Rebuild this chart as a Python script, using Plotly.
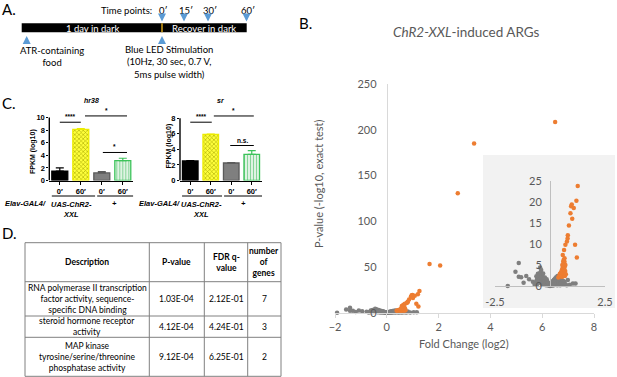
import plotly.graph_objects as go

W, H = 617, 377
def fx(p): return p / W
def fy(p): return 1 - p / H

# ---------------- Panel A (schematic) ----------------
timepoint_labels = ["0′", "15′", "30′", "60′"]
timepoint_px = [162, 184, 208, 246.5]

# ---------------- Panel C (bar charts) ----------------
cond_labels = ["0′", "60′", "0′", "60′"]
hr38_mean = [1.5, 8.1, 1.2, 3.15]
hr38_err = [0.5, 0.12, 0.2, 0.38]
sr_mean = [2.52, 5.92, 2.25, 3.35]
sr_err = [0.05, 0.06, 0.06, 0.48]
hr38_sig_x0 = [0.0, 1.2, 2.05]
hr38_sig_x1 = [1.0, 3.2, 3.2]
hr38_sig_y = [9.25, 10.25, 4.45]
hr38_sig_txt = ["****", "*", "*"]
sr_sig_x0 = [0.0, 1.15, 1.95]
sr_sig_x1 = [1.05, 3.1, 3.1]
sr_sig_y = [7.5, 8.3, 4.5]
sr_sig_txt = ["****", "*", "n.s."]
genotype_labels = ["UAS-ChR2-<br>XXL", "+"]
driver_label = "Elav-GAL4/"

# ---------------- Panel B (volcano) ----------------
sig_fc = [6.50, 3.37, 2.74, 1.65, 2.06, 1.26, 1.20, 0.99, 0.96, 1.08, 0.93, 1.01,
          0.86, 0.81, 0.80, 0.77, 0.70, 1.14, 0.64, 0.58, 1.22,
          0.38, 0.42, 0.45, 0.48, 0.50, 0.52, 0.54, 0.55, 0.57, 0.58, 0.60, 0.61,
          0.62, 0.63, 0.64, 0.65, 0.66, 0.67, 0.68, 0.69, 0.62, 0.66, 0.70, 0.72,
          0.60, 0.56]
sig_p = [208.5, 185.0, 130.7, 53.3, 51.5, 23.8, 20.3, 19.4, 19.0, 18.6, 17.3, 16.0,
         14.4, 12.1, 11.3, 10.6, 9.8, 9.8, 8.6, 7.4, 6.8,
         2.0, 2.4, 2.9, 2.3, 3.3, 2.6, 3.8, 2.2, 4.3, 3.0, 4.8, 3.5,
         2.5, 5.3, 4.1, 3.0, 5.8, 4.6, 2.4, 3.6, 6.2, 6.6, 5.0, 2.8,
         5.8, 5.0]
ns_fc = [-1.92, -1.57, -1.42, -1.42, -1.31, -1.08, -0.95, -0.78, -1.20, -0.62,
         -0.55, -0.48, -0.40, -0.45,
         -0.70, -0.66, -0.60, -0.58, -0.55, -0.52, -0.50, -0.48, -0.46, -0.43,
         -0.42, -0.40, -0.38, -0.36, -0.35, -0.33, -0.31, -0.30, -0.28, -0.26,
         -0.25, -0.23, -0.21, -0.20, -0.18, -0.17, -0.15, -0.13, -0.12, -0.10,
         -0.09, -0.07, -0.05, -0.04, -0.02,
         0.00, 0.02, 0.04, 0.05, 0.07, 0.09, 0.10, 0.12, 0.13, 0.15, 0.17, 0.18,
         0.20, 0.22, 0.23, 0.25, 0.27, 0.28, 0.30, 0.32, 0.33, 0.34, 0.36, 0.38,
         0.40, 0.42, 0.44, 0.46, 0.48, 0.50, 0.52, 0.55, 0.58, 0.60, 0.63, 0.66,
         0.70, 0.76, 0.81, 0.90, 1.04, 1.16]
ns_p = [0.0, 3.4, 5.5, 2.2, 2.1, 2.4, 1.6, 1.0, 0.8, 2.3,
        2.9, 3.0, 3.8, 4.4,
        0.3, 0.9, 1.5, 0.5, 1.2, 2.0, 0.8, 1.6, 2.5, 3.3,
        1.0, 2.0, 2.7, 0.4, 1.4, 2.2, 3.0, 0.9, 1.8, 0.3,
        1.2, 2.0, 0.7, 1.5, 0.2, 1.0, 1.6, 0.5, 1.1, 0.2,
        0.8, 0.4, 0.1, 0.6, 0.2,
        0.0, 0.3, 0.1, 0.6, 0.2, 0.9, 0.4, 0.1, 1.2, 0.6, 0.2, 1.5,
        0.9, 0.3, 1.8, 1.2, 0.5, 2.1, 1.5, 0.8, 0.2, 2.4, 1.8, 1.1,
        0.4, 1.5, 0.8, 0.2, 1.2, 0.6, 1.6, 0.9, 0.3, 1.2, 0.6, 1.0,
        0.4, 0.2, 1.4, 0.3, 0.6, 0.6]
main_x_ticks = [-2, 0, 2, 4, 6, 8]
main_y_ticks = [0, 50, 100, 150, 200, 250]
inset_x_ticks = [-2.5, 2.5]
inset_y_ticks = [0, 5, 10, 15, 20, 25]

# ---------------- Panel D (table) ----------------
table_header = ["Description", "P-value", "FDR q-<br>value", "number<br>of<br>genes"]
go_desc = ["RNA polymerase II transcription<br>factor activity, sequence-<br>specific DNA binding",
           "steroid hormone receptor<br>activity",
           "MAP kinase<br>tyrosine/serine/threonine<br>phosphatase activity"]
go_pval = ["1.03E-04", "4.12E-04", "9.12E-04"]
go_fdr = ["2.12E-01", "4.24E-01", "6.25E-01"]
go_ngenes = ["7", "3", "2"]

# ====================================================
XL = "Lato"
PR = "Liberation Sans"
XLC = "#595959"
BLUE = "#5b9bd5"

fig = go.Figure()
ann = []
shapes = []

def text(t, x, y, size, color="black", family=XL, xanchor="center", yanchor="middle",
         angle=0, weight="normal", style="normal", xref="paper", yref="paper"):
    ann.append(dict(text=t, x=x, y=y, xref=xref, yref=yref, showarrow=False,
                    xanchor=xanchor, yanchor=yanchor, textangle=angle,
                    font=dict(family=family, size=size, color=color, weight=weight, style=style)))

# ---------- panel labels ----------
text("A.", fx(0), fy(9), 15, xanchor="left")
text("B.", fx(297), fy(23), 15, xanchor="left")
text("C.", fx(0), fy(103), 15, xanchor="left")
text("D.", fx(0), fy(233), 15, xanchor="left")

# ---------- Panel A ----------
shapes.append(dict(type="rect", xref="paper", yref="paper", x0=fx(21.7), x1=fx(246.7),
                   y0=fy(32.3), y1=fy(23.3), fillcolor="black", line=dict(width=0)))
shapes.append(dict(type="line", xref="paper", yref="paper", x0=fx(162), x1=fx(162),
                   y0=fy(32.3), y1=fy(23.3), line=dict(color="#d4a017", width=1.5)))
text("1 day in dark", fx(92), fy(28), 9.5, color="white")
text("Recover in dark", fx(204), fy(28), 9.5, color="white")
text("Time points:", fx(126), fy(10), 9.5)
for lab, xp in zip(timepoint_labels, timepoint_px):
    text(lab, fx(xp + 1.5), fy(10), 9.5)
    ann.append(dict(text="", x=fx(xp), y=fy(21.5), xref="paper", yref="paper",
                    showarrow=True, ax=0, ay=-6, arrowhead=2, arrowsize=1,
                    arrowwidth=1.6, arrowcolor=BLUE))
for xp in [26.7, 162]:
    ann.append(dict(text="", x=fx(xp), y=fy(36), xref="paper", yref="paper",
                    showarrow=True, ax=0, ay=7, arrowhead=2, arrowsize=1,
                    arrowwidth=1.6, arrowcolor=BLUE))
text("ATR-containing<br>food", fx(52), fy(57), 9.5)
text("Blue LED Stimulation<br>(10Hz, 30 sec, 0.7 V,<br>5ms pulse width)", fx(169), fy(62), 9.5)

# ---------- Panel C ----------
bar_fill = ["#000000", "#ffff3c", "#7f7f7f", "#dff3e3"]
bar_line = ["#000000", "#ecec00", "#5a5a5a", "#3cc35a"]
bar_pattern = ["", "x", "", "|"]
bar_pattern_fg = ["#000000", "#a8a800", "#7f7f7f", "#86d498"]

def add_bars(xa, ya, means, errs):
    for i, (m, e) in enumerate(zip(means, errs)):
        fig.add_trace(go.Bar(
            x=[i], y=[m], width=0.76, xaxis=xa, yaxis=ya,
            marker=dict(color=bar_fill[i], line=dict(color=bar_line[i], width=1.3),
                        pattern=dict(shape=bar_pattern[i], fgcolor=bar_pattern_fg[i],
                                     bgcolor=bar_fill[i], size=3, solidity=0.35)),
            error_y=dict(type="data", array=[e], arrayminus=[0], symmetric=False,
                         color=bar_line[i], thickness=1.2, width=4),
            showlegend=False, hoverinfo="skip"))

add_bars("x", "y", hr38_mean, hr38_err)
add_bars("x2", "y2", sr_mean, sr_err)

def bar_axes(xdom, yunit, ymax_tick, yrange_top):
    xa = dict(domain=xdom, range=[-0.5, 3.5], tickvals=[0, 1, 2, 3], ticktext=cond_labels,
              showline=True, linecolor="black", linewidth=1.4, ticks="outside", ticklen=3,
              tickwidth=1.2, tickcolor="black", showgrid=False, zeroline=False,
              automargin=False,
              tickfont=dict(family=PR, size=7.5, weight="bold", color="black"), fixedrange=True)
    ya = dict(domain=[fy(180.5), fy(180.5 - yrange_top * yunit)], range=[0, yrange_top],
              tickvals=list(range(0, ymax_tick + 1, 2)), showline=False, ticks="outside",
              ticklen=2, tickwidth=1.2, tickcolor="black", showgrid=False, zeroline=False,
              automargin=False,
              tickfont=dict(family=PR, size=7.5, weight="bold", color="black"), fixedrange=True)
    return xa, ya

xa1, ya1 = bar_axes([fx(49.3), fx(133.3)], 6.3, 10, 12)
xa2, ya2 = bar_axes([fx(180), fx(262)], 7.775, 8, 9.6)
xa1["anchor"] = "y"; ya1["anchor"] = "x"
xa2["anchor"] = "y2"; ya2["anchor"] = "x2"

# y-axis lines (only up to the last tick)
shapes.append(dict(type="line", xref="x domain", yref="y", x0=0, x1=0, y0=0, y1=10,
                   line=dict(color="black", width=1.4)))
shapes.append(dict(type="line", xref="x2 domain", yref="y2", x0=0, x1=0, y0=0, y1=8,
                   line=dict(color="black", width=1.4)))

def sig(xr, yr, x0s, x1s, ys, txts):
    for a, b, yv, t in zip(x0s, x1s, ys, txts):
        shapes.append(dict(type="line", xref=xr, yref=yr, x0=a, x1=b, y0=yv, y1=yv,
                           line=dict(color="black", width=1)))
        text(t, (a + b) / 2, yv, 6.5, family=PR, weight="bold", yanchor="bottom",
             xref=xr, yref=yr)

sig("x", "y", hr38_sig_x0, hr38_sig_x1, hr38_sig_y, hr38_sig_txt)
sig("x2", "y2", sr_sig_x0, sr_sig_x1, sr_sig_y, sr_sig_txt)

text("hr38", 1.5, fy(100), 7, family=PR, weight="bold", style="italic", xref="x")
text("sr", 1.5, fy(100), 7, family=PR, weight="bold", style="italic", xref="x2")
text("FPKM (log10)", fx(33), fy(152), 7, family=PR, weight="bold", angle=-90)
text("FPKM (log10)", fx(168.5), fy(146), 7, family=PR, weight="bold", angle=-90)

for xr, ax_left_px, spans in [("x", 48, [(-0.38, 1.68), (1.78, 3.5)]),
                              ("x2", 182, [(-0.4, 1.55), (1.65, 3.5)])]:
    for (a, b) in spans:
        shapes.append(dict(type="line", xref=xr, yref="paper", x0=a, x1=b,
                           y0=fy(196), y1=fy(196), line=dict(color="black", width=1)))
    text(driver_label, fx(ax_left_px), fy(203), 7.5, family=PR, weight="bold",
         style="italic", xanchor="right")
    text(genotype_labels[0], 0.55, fy(209), 7.5, family=PR, weight="bold",
         style="italic", xref=xr)
    text(genotype_labels[1], 2.6, fy(203), 7.5, family=PR, weight="bold",
         style="italic", xref=xr)

# ---------- Panel B ----------
mx_dom = [fx(335), fx(594)]
mx_rng = [-2, 8]
my_dom = [fy(312.7), fy(84)]
main_pos = mx_dom[0] + (0 - mx_rng[0]) / (mx_rng[1] - mx_rng[0]) * (mx_dom[1] - mx_dom[0])

ix_dom = [fx(495), fx(605)]
ix_rng = [-2.5, 2.5]
iy_dom = [fy(286), fy(181)]
inset_pos = ix_dom[0] + (0 - ix_rng[0]) / (ix_rng[1] - ix_rng[0]) * (ix_dom[1] - ix_dom[0])

GRAY = "#7f7f7f"
ORANGE = "#ed7d31"
fig.add_trace(go.Scatter(x=ns_fc, y=ns_p, mode="markers", xaxis="x3", yaxis="y3",
                         marker=dict(color=GRAY, size=4.5), cliponaxis=False,
                         showlegend=False, hoverinfo="skip"))
fig.add_trace(go.Scatter(x=sig_fc, y=sig_p, mode="markers", xaxis="x3", yaxis="y3",
                         marker=dict(color=ORANGE, size=4.5), cliponaxis=False,
                         showlegend=False, hoverinfo="skip"))

def in_inset(xs, ys):
    pts = [(a, b) for a, b in zip(xs, ys)
           if ix_rng[0] <= a <= ix_rng[1] and b <= inset_y_ticks[-1]]
    return [p[0] for p in pts], [p[1] for p in pts]

gx, gy = in_inset(ns_fc, ns_p)
ox, oy = in_inset(sig_fc, sig_p)
fig.add_trace(go.Scatter(x=gx, y=gy, mode="markers", xaxis="x4", yaxis="y4",
                         marker=dict(color=GRAY, size=4.5), cliponaxis=False,
                         showlegend=False, hoverinfo="skip"))
fig.add_trace(go.Scatter(x=ox, y=oy, mode="markers", xaxis="x4", yaxis="y4",
                         marker=dict(color=ORANGE, size=4.5), cliponaxis=False,
                         showlegend=False, hoverinfo="skip"))

shapes.append(dict(type="rect", xref="paper", yref="paper", x0=fx(483), x1=fx(615),
                   y0=fy(308), y1=fy(155), fillcolor="#f2f2f2", line=dict(width=0),
                   layer="below"))

tf = dict(family=XL, size=11, color=XLC)
xa3 = dict(domain=mx_dom, range=mx_rng, anchor="y3", tickvals=main_x_ticks,
           showline=True, linecolor="#d9d9d9", linewidth=1, ticks="outside", ticklen=4,
           tickcolor="#d9d9d9", showgrid=False, zeroline=False, tickfont=tf,
           automargin=False, fixedrange=True)
ya3 = dict(domain=my_dom, range=[0, 250], anchor="free", position=main_pos,
           tickvals=main_y_ticks, showline=True, linecolor="#d9d9d9", linewidth=1,
           ticks="outside", ticklen=8, tickcolor="rgba(0,0,0,0)", showgrid=False,
           zeroline=False, tickfont=tf, automargin=False, fixedrange=True)
xa4 = dict(domain=ix_dom, range=ix_rng, anchor="y4", tickvals=inset_x_ticks,
           ticktext=["-2.5", "2.5"], showline=True, linecolor="#bfbfbf", linewidth=1,
           ticks="outside", ticklen=6, tickcolor="rgba(0,0,0,0)", showgrid=False,
           zeroline=False, tickfont=tf, automargin=False, fixedrange=True)
ya4 = dict(domain=iy_dom, range=[0, 25], anchor="free", position=inset_pos,
           tickvals=inset_y_ticks, showline=True, linecolor="#bfbfbf", linewidth=1,
           ticks="outside", ticklen=6, tickcolor="rgba(0,0,0,0)", showgrid=False,
           zeroline=False, tickfont=tf, automargin=False, fixedrange=True)

text("<i>ChR2-XXL</i>-induced ARGs", fx(466), fy(32), 13.5, color=XLC)
text("P-value (-log10, exact test)", fx(318), fy(183), 11, color=XLC, angle=-90)
text("Fold Change (log2)", fx(464), fy(343), 11, color=XLC)

# ---------- Panel D ----------
col_px = [25, 149.3, 204.3, 247.7, 281]
row_px = [242.7, 281.7, 316, 337.3, 376.3]
TB = "#808080"
for xp in col_px:
    shapes.append(dict(type="line", xref="paper", yref="paper", x0=fx(xp), x1=fx(xp),
                       y0=fy(row_px[0]), y1=fy(row_px[-1]), line=dict(color=TB, width=1)))
for yp in row_px:
    shapes.append(dict(type="line", xref="paper", yref="paper", x0=fx(col_px[0]),
                       x1=fx(col_px[-1]), y0=fy(yp), y1=fy(yp), line=dict(color=TB, width=1)))
col_c = [(col_px[i] + col_px[i + 1]) / 2 for i in range(4)]
row_c = [(row_px[i] + row_px[i + 1]) / 2 for i in range(4)]
for j, h in enumerate(table_header):
    text(h, fx(col_c[j]), fy(row_c[0]), 8.5, weight="bold")
for i in range(3):
    for j, v in enumerate([go_desc[i], go_pval[i], go_fdr[i], go_ngenes[i]]):
        text(v, fx(col_c[j]), fy(row_c[i + 1]), 8.5)

fig.update_layout(
    template="none",
    width=W, height=H, autosize=False,
    margin=dict(l=0, r=0, t=0, b=0, pad=0, autoexpand=False),
    paper_bgcolor="white", plot_bgcolor="rgba(0,0,0,0)", barmode="overlay",
    xaxis=xa1, yaxis=ya1, xaxis2=xa2, yaxis2=ya2,
    xaxis3=xa3, yaxis3=ya3, xaxis4=xa4, yaxis4=ya4,
    annotations=ann, shapes=shapes, showlegend=False,
)
fig.write_html("out.html", config={"displayModeBar": False},
               post_script="document.body.style.margin='0';document.body.style.overflow='hidden';")
